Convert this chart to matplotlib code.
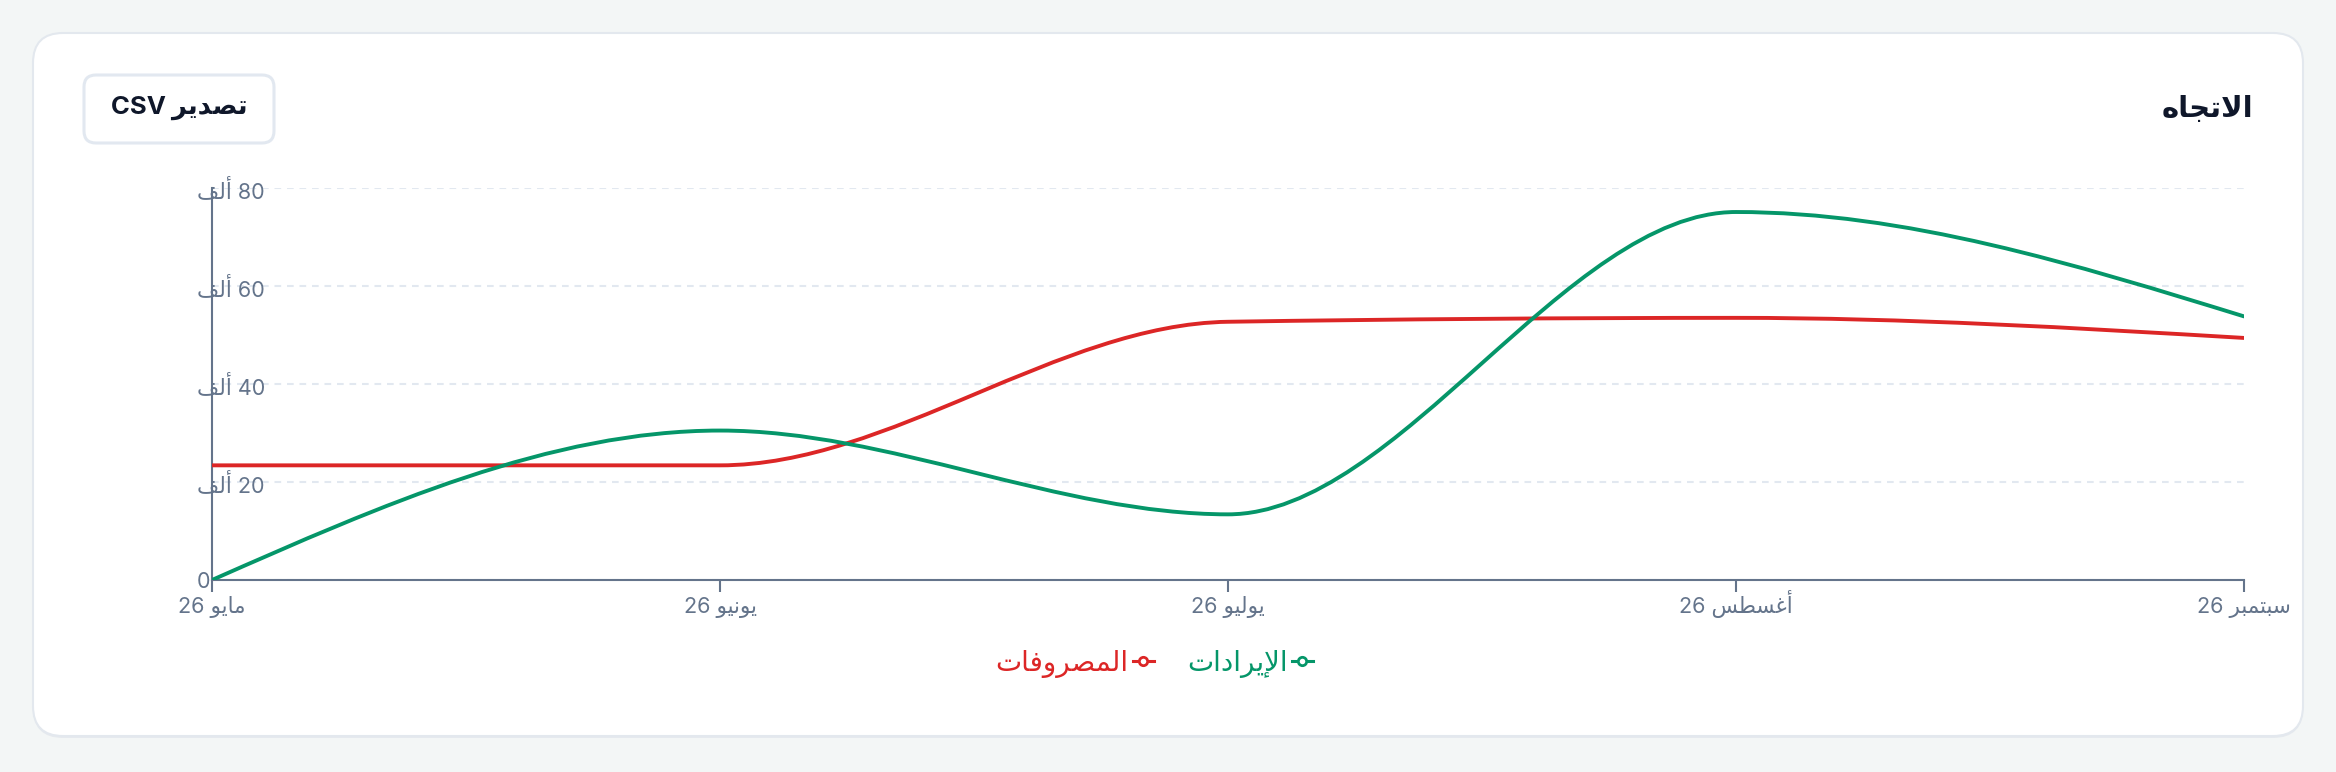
import numpy as np
import matplotlib
matplotlib.use('Agg')
import matplotlib.pyplot as plt
from matplotlib.path import Path
from matplotlib.patches import PathPatch, FancyBboxPatch
from matplotlib.lines import Line2D
from matplotlib.transforms import Affine2D

# Data
months = ['مايو', 'يونيو', 'يوليو', 'أغسطس', 'سبتمبر']
year = '26'
revenue = [0, 30500, 13400, 75100, 53800]
expenses = [23400, 23400, 52700, 53500, 49400]
y_ticks = [0, 20000, 40000, 60000, 80000]
thousand = 'ألف'
title = 'الاتجاه'
export_label = 'تصدير'
revenue_label = 'الإيرادات'
expenses_label = 'المصروفات'

GREEN = '#059669'
RED = '#dc2626'
SLATE = '#64748b'
GRID = '#e2e8f0'
INK = '#0f172a'

# matplotlib has no arabic shaping, so pick presentation forms by hand
# forms: (isolated, final) or (isolated, final, initial, medial)
FORMS = {
    'ا': ('\ufe8d', '\ufe8e'),
    'أ': ('\ufe83', '\ufe84'),
    'إ': ('\ufe87', '\ufe88'),
    'د': ('\ufea9', '\ufeaa'),
    'ر': ('\ufead', '\ufeae'),
    'و': ('\ufeed', '\ufeee'),
    'لا': ('\ufefb', '\ufefc'),
    'لأ': ('\ufef7', '\ufef8'),
    'لإ': ('\ufef9', '\ufefa'),
    'ب': ('\ufe8f', '\ufe90', '\ufe91', '\ufe92'),
    'ت': ('\ufe95', '\ufe96', '\ufe97', '\ufe98'),
    'ج': ('\ufe9d', '\ufe9e', '\ufe9f', '\ufea0'),
    'س': ('\ufeb1', '\ufeb2', '\ufeb3', '\ufeb4'),
    'ص': ('\ufeb9', '\ufeba', '\ufebb', '\ufebc'),
    'ط': ('\ufec1', '\ufec2', '\ufec3', '\ufec4'),
    'غ': ('\ufecd', '\ufece', '\ufecf', '\ufed0'),
    'ف': ('\ufed1', '\ufed2', '\ufed3', '\ufed4'),
    'ل': ('\ufedd', '\ufede', '\ufedf', '\ufee0'),
    'م': ('\ufee1', '\ufee2', '\ufee3', '\ufee4'),
    'ن': ('\ufee5', '\ufee6', '\ufee7', '\ufee8'),
    'ه': ('\ufee9', '\ufeea', '\ufeeb', '\ufeec'),
    'ي': ('\ufef1', '\ufef2', '\ufef3', '\ufef4'),
}


def rtl(word):
    toks = []
    i = 0
    while i < len(word):
        if word[i] == 'ل' and i + 1 < len(word) and word[i + 1] in 'اأإ':
            toks.append(word[i:i + 2])
            i += 2
        else:
            toks.append(word[i])
            i += 1
    out = []
    for k, t in enumerate(toks):
        if t not in FORMS:
            out.append(t)
            continue
        f = FORMS[t]
        prev = k > 0 and toks[k - 1] in FORMS and len(FORMS[toks[k - 1]]) == 4
        nxt = len(f) == 4 and k + 1 < len(toks) and toks[k + 1] in FORMS
        if prev and nxt:
            out.append(f[3])
        elif prev:
            out.append(f[1])
        elif nxt:
            out.append(f[2])
        else:
            out.append(f[0])
    return ''.join(reversed(out))


def monotone_path(xs, ys):
    # same smoothing as d3 curveMonotoneX, as cubic bezier segments
    xs = np.asarray(xs, float)
    ys = np.asarray(ys, float)
    h = np.diff(xs)
    s = np.diff(ys) / h
    n = len(xs)
    t = np.zeros(n)
    for i in range(1, n - 1):
        p = (s[i - 1] * h[i] + s[i] * h[i - 1]) / (h[i - 1] + h[i])
        t[i] = (np.sign(s[i - 1]) + np.sign(s[i])) * min(abs(s[i - 1]), abs(s[i]), 0.5 * abs(p))
    t[0] = (3 * s[0] - t[1]) / 2
    t[-1] = (3 * s[-1] - t[-2]) / 2
    verts = [(xs[0], ys[0])]
    codes = [Path.MOVETO]
    for i in range(n - 1):
        dx = h[i] / 3
        verts += [(xs[i] + dx, ys[i] + dx * t[i]),
                  (xs[i + 1] - dx, ys[i + 1] - dx * t[i + 1]),
                  (xs[i + 1], ys[i + 1])]
        codes += [Path.CURVE4] * 3
    return Path(verts, codes)


plt.rcParams['font.family'] = ['Inter', 'DejaVu Sans']

W, H = 2336, 772
fig = plt.figure(figsize=(W / 100, H / 100), dpi=100)
fig.patch.set_facecolor('#f3f6f6')
PX = Affine2D().scale(1 / W, 1 / H) + fig.transFigure

# card with a soft shadow
fig.patches.append(FancyBboxPatch((33, H - 738), 2270, 704, boxstyle='round,pad=0,rounding_size=30',
                                  transform=PX, facecolor='#e6eaee', edgecolor='none', zorder=-3))
fig.patches.append(FancyBboxPatch((33, H - 736), 2270, 703, boxstyle='round,pad=0,rounding_size=30',
                                  transform=PX, facecolor='white', edgecolor='#e3e8ee', lw=1.5, zorder=-2))

# export button
fig.patches.append(FancyBboxPatch((84, H - 143), 190, 68, boxstyle='round,pad=0,rounding_size=12',
                                  transform=PX, facecolor='white', edgecolor=GRID, lw=2.2, zorder=-1))
fig.text(179, H - 108, 'CSV ' + rtl(export_label), transform=PX, ha='center', va='center',
         fontsize=18.5, fontweight='bold', color=INK)

fig.text(2253, H - 109, rtl(title), transform=PX, ha='right', va='center',
         fontsize=21, fontweight='bold', color=INK)

ax = fig.add_axes([212 / W, (H - 580) / H, 2032 / W, 392 / H], zorder=2)
ax.set_facecolor('none')
x = np.arange(len(months))
ax.set_xlim(x[0], x[-1])
ax.set_ylim(0, 80000)

ax.add_patch(PathPatch(monotone_path(x, expenses), facecolor='none', edgecolor=RED,
                       lw=2.8, capstyle='round', zorder=3))
ax.add_patch(PathPatch(monotone_path(x, revenue), facecolor='none', edgecolor=GREEN,
                       lw=2.8, capstyle='round', zorder=3))

ax.set_yticks(y_ticks)
ax.set_yticklabels(['0' if v == 0 else rtl(thousand) + ' ' + str(v // 1000) for v in y_ticks])
ax.set_xticks(x)
ax.set_xticklabels([year + ' ' + rtl(m) for m in months])
ax.yaxis.grid(True, color=GRID, lw=1.5, linestyle=(0, (3.2, 2.8)))
ax.xaxis.grid(False)
ax.set_axisbelow(True)

for side in ['top', 'right']:
    ax.spines[side].set_visible(False)
for side in ['left', 'bottom']:
    ax.spines[side].set_color(SLATE)
    ax.spines[side].set_linewidth(1.5)

ax.tick_params(axis='x', direction='out', length=8.6, width=1.5, color=SLATE,
               labelcolor=SLATE, labelsize=15.5, pad=15)
ax.tick_params(axis='y', length=0, labelcolor=SLATE, labelsize=15.5, pad=10.8)
for lab in ax.get_yticklabels():
    lab.set_horizontalalignment('left')
for lab in ax.get_xticklabels():
    lab.set_verticalalignment('baseline')

handles = [Line2D([], [], color=RED, lw=2.2, marker='o', markersize=6,
                  markerfacecolor='white', markeredgewidth=2),
           Line2D([], [], color=GREEN, lw=2.2, marker='o', markersize=6,
                  markerfacecolor='white', markeredgewidth=2)]
fig.legend(handles, [rtl(expenses_label), rtl(revenue_label)], loc='center',
           bbox_to_anchor=(1154 / W, 1 - 664 / H), ncol=2, frameon=False,
           markerfirst=False, fontsize=20, handlelength=0.75, handletextpad=0.15,
           columnspacing=1.2, labelcolor=[RED, GREEN])

fig.savefig('out.png', dpi=100, facecolor=fig.get_facecolor())
